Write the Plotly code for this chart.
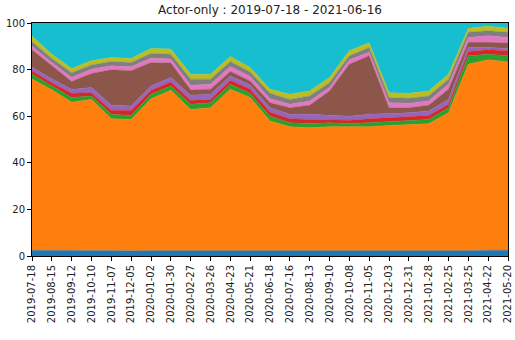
import plotly.graph_objects as go
import pandas as pd

dates = pd.date_range("2019-07-18", periods=25, freq="28D")
date_labels = [d.strftime("%Y-%m-%d") for d in dates]

blue   = [2.5,2.4,2.3,2.2,2.1,2.2,2.3,2.3,2.2,2.2,2.3,2.2,2.1,2.0,2.0,2.0,2.0,2.0,2.0,2.0,2.0,2.1,2.3,2.5,2.5]
orange = [73.5,68.9,63.7,65.0,56.8,56.4,65.2,68.8,60.7,61.4,69.3,65.8,55.8,53.5,53.0,53.5,53.5,53.5,54.0,54.5,54.8,59.4,80.0,81.7,80.8]
green  = [2.0,1.7,2.0,1.5,1.9,1.7,1.9,1.9,2.2,2.2,2.1,1.8,2.1,1.7,1.9,1.7,1.4,1.7,1.6,1.7,1.8,2.1,3.6,2.4,2.6]
red    = [1.5,1.4,1.8,1.4,1.8,2.2,1.7,1.7,1.7,1.4,1.7,1.8,1.8,1.7,1.7,1.4,1.4,1.7,1.8,1.4,1.7,1.5,1.9,1.9,2.2]
purple = [1.5,1.6,1.7,2.2,2.1,1.9,1.9,1.9,2.2,2.2,1.9,1.8,1.8,1.9,2.2,1.9,1.7,1.9,1.7,1.9,1.9,2.1,1.7,1.0,1.0]
brown  = [7.5,5.6,3.4,6.0,15.2,15.1,10.0,6.2,2.3,2.2,1.9,1.7,2.2,2.8,3.9,10.3,22.3,25.1,2.5,2.1,2.5,4.4,2.2,2.2,2.3]
pink   = [1.5,1.4,1.7,1.9,1.7,1.7,1.9,1.7,2.0,2.1,2.1,1.9,1.7,1.5,1.8,1.5,1.9,1.5,2.2,1.9,1.8,2.1,2.1,2.8,2.4]
gray   = [2.0,1.8,2.1,1.8,1.9,1.8,2.0,2.1,2.6,2.2,2.2,2.0,2.3,2.1,2.2,2.1,1.7,2.1,2.2,2.2,2.2,2.2,2.2,2.2,2.2]
olive  = [2.3,1.8,1.8,1.8,1.7,1.8,2.2,2.2,2.1,2.1,2.1,1.9,1.8,2.2,2.1,2.2,2.2,1.9,2.1,2.1,2.1,2.1,1.7,1.9,1.8]
cyan   = [5.7,13.4,19.5,16.2,14.8,15.2,10.9,11.2,22.0,22.0,14.4,19.1,28.4,30.6,29.2,23.4,11.9,8.6,29.9,30.2,29.2,22.0,2.3,1.4,2.2]

series = [
    ("s0", blue, "#1f77b4"),
    ("s1", orange, "#ff7f0e"),
    ("s2", green, "#2ca02c"),
    ("s3", red, "#d62728"),
    ("s4", purple, "#9467bd"),
    ("s5", brown, "#8c564b"),
    ("s6", pink, "#e377c2"),
    ("s7", gray, "#7f7f7f"),
    ("s8", olive, "#bcbd22"),
    ("s9", cyan, "#17becf"),
]

fig = go.Figure()
for name, vals, col in series:
    fig.add_trace(go.Scatter(
        x=dates, y=vals, name=name, mode="lines",
        stackgroup="one", fillcolor=col,
        line=dict(color=col, width=0.5),
        hoverinfo="skip",
    ))

fig.update_layout(
    width=515, height=340,
    margin=dict(l=32, r=7, t=23, b=84, autoexpand=False),
    paper_bgcolor="white", plot_bgcolor="white",
    showlegend=False,
    font=dict(family="DejaVu Sans", size=10, color="#222"),
    title=dict(text="Actor-only : 2019-07-18 - 2021-06-16",
               font=dict(family="DejaVu Sans", size=12, color="#222"),
               x=0.5, xanchor="center", xref="paper", y=0.985, yanchor="top"),
)
fig.update_xaxes(
    type="date",
    range=[dates[0], dates[-1]],
    tickvals=list(dates), ticktext=date_labels,
    tickangle=-90,
    ticks="outside", ticklen=4, tickcolor="black", tickwidth=1,
    showline=True, linecolor="black", linewidth=1, mirror=True,
    showgrid=False, zeroline=False, automargin=False,
    tickfont=dict(family="DejaVu Sans", size=10, color="#222"),
)
fig.update_yaxes(
    range=[0, 100],
    tickvals=[0, 20, 40, 60, 80, 100],
    ticks="outside", ticklen=4, tickcolor="black", tickwidth=1,
    showline=True, linecolor="black", linewidth=1, mirror=True,
    showgrid=False, zeroline=False, automargin=False,
    tickfont=dict(family="DejaVu Sans", size=10, color="#222"),
)
fig.write_html("out.html", config={"displayModeBar": False, "staticPlot": True},
               post_script="document.body.style.margin='0';document.body.style.overflow='hidden';")
